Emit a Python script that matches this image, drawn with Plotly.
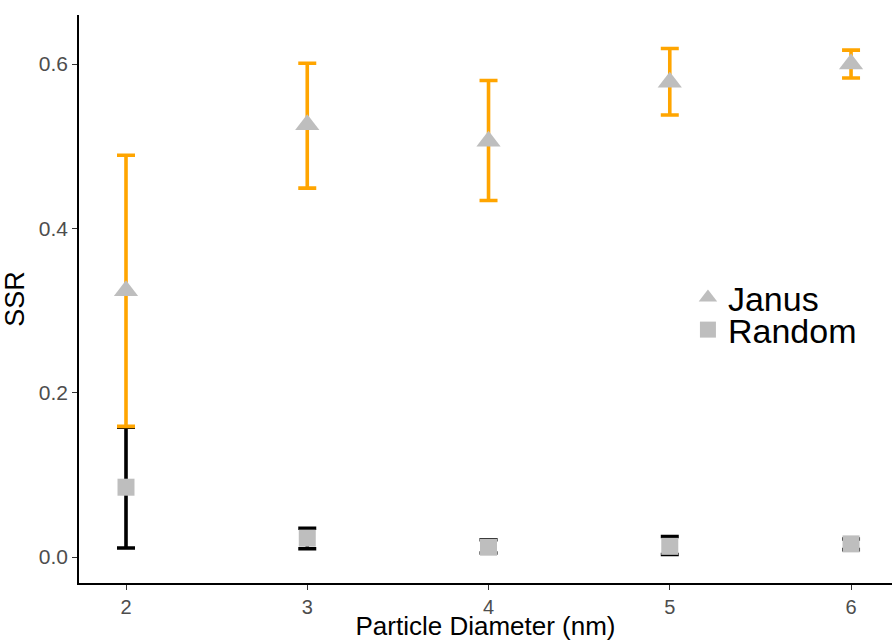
import plotly.graph_objects as go

diameters = [2, 3, 4, 5, 6]

janus_ssr = [0.324, 0.526, 0.506, 0.578, 0.600]
janus_upper = [0.489, 0.601, 0.580, 0.619, 0.617]
janus_lower = [0.159, 0.449, 0.434, 0.538, 0.583]

random_ssr = [0.085, 0.023, 0.012, 0.013, 0.016]
random_upper = [0.158, 0.035, 0.021, 0.025, 0.022]
random_lower = [0.011, 0.010, 0.005, 0.003, 0.009]

series_names = ["Janus", "Random"]
x_ticks = [2, 3, 4, 5, 6]
y_ticks = [0.0, 0.2, 0.4, 0.6]
y_tick_labels = ["0.0", "0.2", "0.4", "0.6"]

FONT = "Liberation Sans, Arial, sans-serif"
GRAY = "#BEBEBE"


def err(vals, hi, lo, color):
    return dict(
        type="data",
        symmetric=False,
        array=[h - v for h, v in zip(hi, vals)],
        arrayminus=[v - l for v, l in zip(vals, lo)],
        color=color,
        thickness=3.6,
        width=9,
    )


fig = go.Figure()

# error bars (drawn beneath points)
fig.add_trace(go.Scatter(
    x=diameters, y=random_ssr, mode="markers",
    marker=dict(size=1, color="rgba(0,0,0,0)"),
    error_y=err(random_ssr, random_upper, random_lower, "black"),
    showlegend=False, hoverinfo="skip"))
fig.add_trace(go.Scatter(
    x=diameters, y=janus_ssr, mode="markers",
    marker=dict(size=1, color="rgba(0,0,0,0)"),
    error_y=err(janus_ssr, janus_upper, janus_lower, "#FFA500"),
    showlegend=False, hoverinfo="skip"))

# points
fig.add_trace(go.Scatter(
    x=diameters, y=janus_ssr, mode="markers", name=series_names[0],
    marker=dict(symbol="triangle-up", size=21, color=GRAY), legend="legend"))
fig.add_trace(go.Scatter(
    x=diameters, y=random_ssr, mode="markers", name=series_names[1],
    marker=dict(symbol="square", size=17, color=GRAY), legend="legend2"))

legend_common = dict(
    xanchor="left", yanchor="middle",
    font=dict(size=34, color="black", family=FONT),
    bgcolor="rgba(0,0,0,0)", itemsizing="trace",
)

fig.update_layout(
    width=892, height=641,
    margin=dict(l=79, r=0, t=15, b=58),
    paper_bgcolor="white", plot_bgcolor="white",
    font=dict(family=FONT, color="black"),
    legend=dict(x=0.749, y=0.5018, **legend_common),
    legend2=dict(x=0.749, y=0.4454, **legend_common),
    xaxis=dict(
        range=[1.7407, 6.226],
        tickvals=x_ticks, ticktext=[str(t) for t in x_ticks],
        showgrid=False, zeroline=False, automargin=False,
        showline=True, linecolor="black", linewidth=1.5,
        ticks="outside", ticklen=5, tickcolor="#333333", tickwidth=1.2,
        tickfont=dict(size=20, color="#4D4D4D", family=FONT),
        title=dict(text="Particle Diameter (nm)", font=dict(size=26, color="black", family=FONT), standoff=6),
    ),
    yaxis=dict(
        range=[-0.0316, 0.6597],
        tickvals=y_ticks, ticktext=y_tick_labels,
        showgrid=False, zeroline=False, automargin=False,
        showline=True, linecolor="black", linewidth=1.5,
        ticks="outside", ticklen=5, tickcolor="#333333", tickwidth=1.2,
        tickfont=dict(size=21, color="#4D4D4D", family=FONT),
        title=dict(text="SSR", font=dict(size=27, color="black", family=FONT), standoff=8),
    ),
)

fig.write_html("out.html")
